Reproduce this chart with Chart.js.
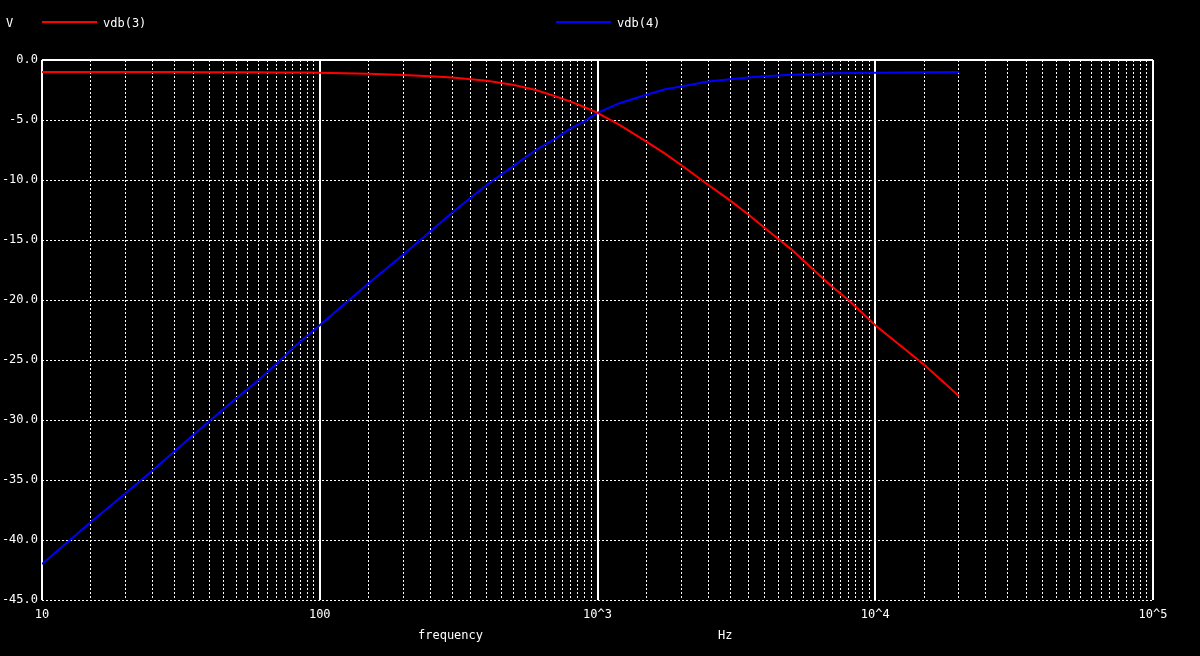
<!DOCTYPE html>
<html>
<head>
<meta charset="utf-8">
<script src="https://cdn.jsdelivr.net/npm/chart.js@4"></script>
<style>
  body { margin: 0; background: #000; }
  canvas { display: block; background: #000; }
</style>
</head>
<body>
<canvas id="myChart" width="1200" height="656"></canvas>
<script>
// data
const freq = [10, 15, 20, 25, 30, 40, 50, 60, 70, 80, 90, 100, 150, 200, 250, 300, 400, 500, 600, 700, 800, 900,
  1000, 1200, 1500, 1750, 2000, 2500, 3000, 3500, 4000, 5000, 6000, 7000, 8000, 9000, 10000, 15000, 20000];
const vdb3 = [-1.0, -1.0, -1.0, -1.0, -1.01, -1.02, -1.02, -1.03, -1.04, -1.05, -1.05, -1.06, -1.15, -1.25, -1.35,
  -1.45, -1.72, -2.08, -2.5, -3.0, -3.47, -3.94, -4.4, -5.4, -6.8, -7.8, -8.75, -10.4, -11.7, -12.9, -14.0,
  -15.8, -17.5, -18.9, -20.0, -21.1, -22.1, -25.4, -28.0];
const vdb4 = [-42.0, -38.5, -36.1, -34.2, -32.6, -30.1, -28.2, -26.7, -25.3, -24.0, -23.0, -22.1, -18.6, -16.2,
  -14.3, -12.7, -10.4, -8.8, -7.5, -6.6, -5.7, -5.1, -4.4, -3.6, -2.9, -2.44, -2.2, -1.8, -1.6, -1.45, -1.35,
  -1.22, -1.16, -1.11, -1.08, -1.07, -1.06, -1.02, -1.0];
const decades = [10, 100, 1000, 10000, 100000];
const decadeLabels = ["10", "100", "10^3", "10^4", "10^5"];
const yTicks = [0, -5, -10, -15, -20, -25, -30, -35, -40, -45];

const font = { family: "'DejaVu Sans Mono', monospace", size: 12 };

const isDecade = (v) => decades.includes(v);

const ctx = document.getElementById("myChart");

// legend, unit and axis captions like ngspice draws them
const captions = {
  id: "captions",
  afterDraw(chart) {
    const c = chart.ctx;
    c.save();
    c.font = "12px 'DejaVu Sans Mono', monospace";
    c.fillStyle = "#fff";
    c.textBaseline = "middle";
    c.textAlign = "left";
    c.fillText("V", 6, 24);
    const sw = [
      { x: 42, label: chart.data.datasets[0].label, color: chart.data.datasets[0].borderColor },
      { x: 556, label: chart.data.datasets[1].label, color: chart.data.datasets[1].borderColor },
    ];
    sw.forEach((s) => {
      c.strokeStyle = s.color;
      c.lineWidth = 2;
      c.beginPath();
      c.moveTo(s.x, 22);
      c.lineTo(s.x + 55, 22);
      c.stroke();
      c.fillStyle = "#fff";
      c.fillText(s.label, s.x + 61, 24);
    });
    c.fillText("frequency", 418, 636);
    c.fillText("Hz", 718, 636);
    c.restore();
  },
};

new Chart(ctx, {
  type: "line",
  data: {
    datasets: [
      {
        label: "vdb(3)",
        data: freq.map((f, i) => ({ x: f, y: vdb3[i] })),
        borderColor: "#ff0000",
        borderWidth: 2,
        pointRadius: 0,
        tension: 0,
      },
      {
        label: "vdb(4)",
        data: freq.map((f, i) => ({ x: f, y: vdb4[i] })),
        borderColor: "#0000ff",
        borderWidth: 2,
        pointRadius: 0,
        tension: 0,
      },
    ],
  },
  options: {
    responsive: false,
    animation: false,
    layout: { padding: { top: 60, right: 47, left: 0, bottom: 0 } },
    plugins: {
      legend: { display: false },
      tooltip: { enabled: false },
    },
    scales: {
      x: {
        type: "logarithmic",
        min: 10,
        max: 100000,
        afterBuildTicks: (scale) => {
          const t = [];
          for (let d = 10; d < 100000; d *= 10) {
            for (let k = 2; k < 20; k++) t.push({ value: (d * k) / 2 });
          }
          t.push({ value: 100000 });
          scale.ticks = t;
        },
        afterFit: (scale) => {
          scale.height = 56;
        },
        ticks: {
          autoSkip: false,
          maxRotation: 0,
          padding: 8,
          color: "#fff",
          font: font,
          callback: (v) => {
            const i = decades.indexOf(v);
            return i >= 0 ? decadeLabels[i] : "";
          },
        },
        grid: {
          drawTicks: false,
          color: "#fff",
          lineWidth: (c) => (c.tick && isDecade(c.tick.value) ? 2 : 1),
        },
        border: {
          display: false,
          dash: (c) => (c.tick && !isDecade(c.tick.value) ? [2, 2] : []),
        },
      },
      y: {
        min: -45,
        max: 0,
        afterBuildTicks: (scale) => {
          scale.ticks = yTicks.map((v) => ({ value: v }));
        },
        afterFit: (scale) => {
          scale.width = 42;
        },
        ticks: {
          padding: 4,
          color: "#fff",
          font: font,
          callback: (v) => v.toFixed(1),
        },
        grid: {
          drawTicks: false,
          color: "#fff",
          lineWidth: (c) => (c.tick && c.tick.value === 0 ? 2 : 1),
        },
        border: {
          display: false,
          dash: (c) => (c.tick && c.tick.value !== 0 ? [2, 2] : []),
        },
      },
    },
  },
  plugins: [captions],
});
</script>
</body>
</html>
